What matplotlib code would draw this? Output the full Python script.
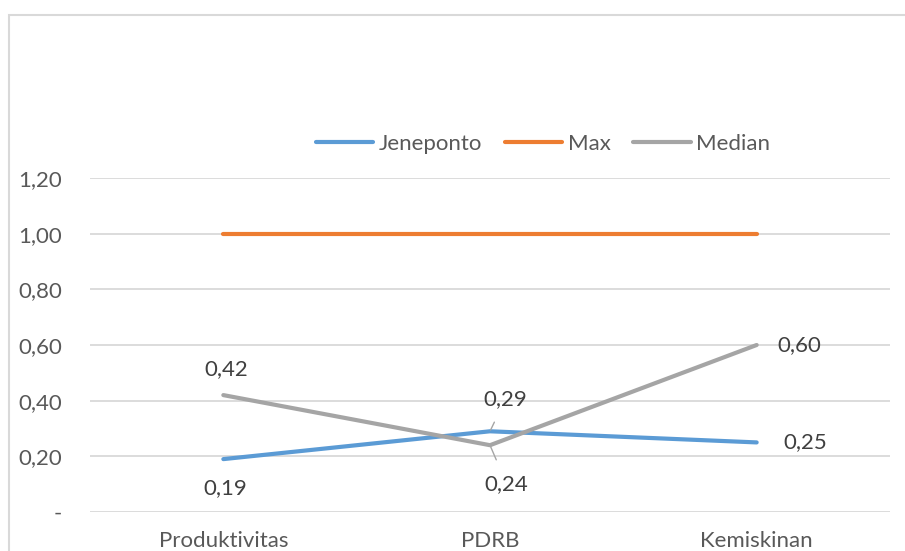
import matplotlib
matplotlib.use("Agg")
import matplotlib.pyplot as plt
from matplotlib.patches import Rectangle

plt.rcParams['font.family'] = ['Lato', 'DejaVu Sans']

categories = ["Produktivitas", "PDRB", "Kemiskinan"]
jeneponto = [0.19, 0.29, 0.25]
max_vals = [1.00, 1.00, 1.00]
median = [0.42, 0.24, 0.60]
y_ticks = [0.0, 0.2, 0.4, 0.6, 0.8, 1.0, 1.2]
y_tick_labels = ["-", "0,20", "0,40", "0,60", "0,80", "1,00", "1,20"]

BLUE = "#5B9BD5"
ORANGE = "#ED7D31"
GRAY = "#A5A5A5"
TEXT = "#595959"
LABEL = "#404040"
GRID = "#D9D9D9"
FS = 16

W, H = 905, 551
fig = plt.figure(figsize=(W / 100, H / 100), dpi=100)
ax = fig.add_axes([90 / W, 1 - 512 / H, 800 / W, (512 - 178) / H])

# chart frame
fig.patches.append(Rectangle((9 / W, -0.1), 1.1, 1 - 15 / H + 0.1,
                             transform=fig.transFigure, fill=False,
                             edgecolor=GRID, linewidth=1.5))

x = list(range(len(categories)))
ax.plot(x, jeneponto, color=BLUE, lw=3, solid_capstyle='round', label="Jeneponto", zorder=3)
ax.plot(x, max_vals, color=ORANGE, lw=3, solid_capstyle='round', label="Max", zorder=3)
ax.plot(x, median, color=GRAY, lw=3, solid_capstyle='round', label="Median", zorder=3)

ax.set_xlim(-0.5, 2.5)
ax.set_ylim(0, 1.2)
ax.set_yticks(y_ticks)
ax.set_yticklabels(y_tick_labels)
ax.set_xticks(x)
ax.set_xticklabels(categories)
ax.tick_params(axis='both', length=0, labelsize=FS, colors=TEXT)
ax.tick_params(axis='y', pad=20)
ax.tick_params(axis='x', pad=14)
ax.grid(axis='y', color=GRID, lw=1.3)
ax.set_axisbelow(True)
for s in ax.spines.values():
    s.set_visible(False)

def fmt(v):
    return f"{v:.2f}".replace(".", ",")

lab = dict(fontsize=FS, color=LABEL, ha='center', va='center')
# Jeneponto labels
ax.annotate(fmt(jeneponto[0]), (0, jeneponto[0]), xytext=(1.5, -21), textcoords='offset points', **lab)
ax.annotate(fmt(jeneponto[1]), (1, jeneponto[1]), xytext=(11, 23), textcoords='offset points',
            arrowprops=dict(arrowstyle='-', color=GRAY, lw=1, shrinkA=8, shrinkB=1), **lab)
ax.annotate(fmt(jeneponto[2]), (2, jeneponto[2]), xytext=(35, 0), textcoords='offset points', **lab)
# Median labels
ax.annotate(fmt(median[0]), (0, median[0]), xytext=(2, 19), textcoords='offset points', **lab)
ax.annotate(fmt(median[1]), (1, median[1]), xytext=(12, -28), textcoords='offset points',
            arrowprops=dict(arrowstyle='-', color=GRAY, lw=1, shrinkA=9, shrinkB=1), **lab)
ax.annotate(fmt(median[2]), (2, median[2]), xytext=(31, 0), textcoords='offset points', **lab)

leg = fig.legend(loc='center', bbox_to_anchor=(543 / W, 1 - 144 / H), ncol=3, frameon=False,
                 fontsize=FS, handlelength=2.6, handletextpad=0.25, columnspacing=1.0)
for t in leg.get_texts():
    t.set_color(TEXT)

fig.savefig("out.png", dpi=100)
